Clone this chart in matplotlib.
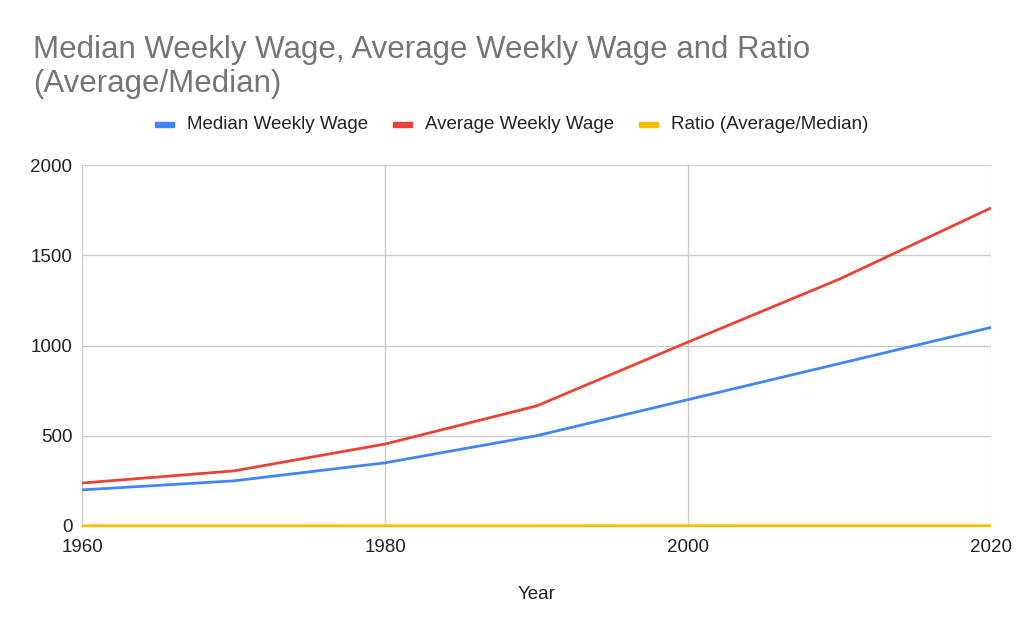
import matplotlib
matplotlib.use("Agg")
import matplotlib.pyplot as plt
from matplotlib.patches import Rectangle

years = [1960, 1970, 1980, 1990, 2000, 2010, 2020]
median_wage = [200, 250, 350, 500, 700, 900, 1100]
average_wage = [238, 305, 454, 665, 1019, 1368, 1762]
ratio = [1.19, 1.22, 1.30, 1.33, 1.46, 1.52, 1.60]
series_names = ["Median Weekly Wage", "Average Weekly Wage", "Ratio (Average/Median)"]
colors = ["#4285F4", "#EA4335", "#FBBC04"]
x_ticks = [1960, 1980, 2000, 2020]
y_ticks = [0, 500, 1000, 1500, 2000]

plt.rcParams['font.family'] = ['Liberation Sans', 'DejaVu Sans']

W, H = 1024, 634
fig = plt.figure(figsize=(W / 100, H / 100), dpi=100)
ax = fig.add_axes([82 / W, 1 - 526 / H, (991 - 82) / W, (526 - 165) / H])

ax.plot(years, median_wage, color=colors[0], lw=2.0, solid_capstyle='butt', zorder=3)
ax.plot(years, average_wage, color=colors[1], lw=2.0, solid_capstyle='butt', zorder=3)
ax.plot(years, ratio, color=colors[2], lw=2.0, solid_capstyle='butt', zorder=4, clip_on=False)

ax.set_xlim(1960, 2020)
ax.set_ylim(0, 2000)
ax.set_xticks(x_ticks)
ax.set_yticks(y_ticks)
ax.set_xticklabels([str(t) for t in x_ticks])
ax.set_yticklabels([str(t) for t in y_ticks])
ax.grid(True, color="#CCCCCC", lw=1.0, zorder=0)
ax.set_axisbelow(True)
for s in ax.spines.values():
    s.set_visible(False)
ax.tick_params(axis='both', length=0, labelsize=13.5, colors="#222222")
ax.tick_params(axis='y', pad=7)
ax.tick_params(axis='x', pad=9)
ax.set_xlabel("Year", fontsize=13.5, color="#222222", labelpad=22)

fig.text(33 / W, 1 - 35 / H, "Median Weekly Wage, Average Weekly Wage and Ratio\n(Average/Median)",
         fontsize=22.5, color="#757575", ha='left', va='top', linespacing=1.17)

# legend
leg_y = 1 - 124.5 / H
entries = [(155, 187), (393, 425), (639, 671)]
for (mx, tx), name, c in zip(entries, series_names, colors):
    fig.patches.append(Rectangle((mx / W, leg_y - 2.5 / H), 19 / W, 5 / H,
                                 transform=fig.transFigure, color=c, figure=fig))
    fig.text(tx / W, leg_y, name, fontsize=13.5, color="#222222", ha='left', va='center')

fig.savefig("out.png", dpi=100, facecolor="white")
